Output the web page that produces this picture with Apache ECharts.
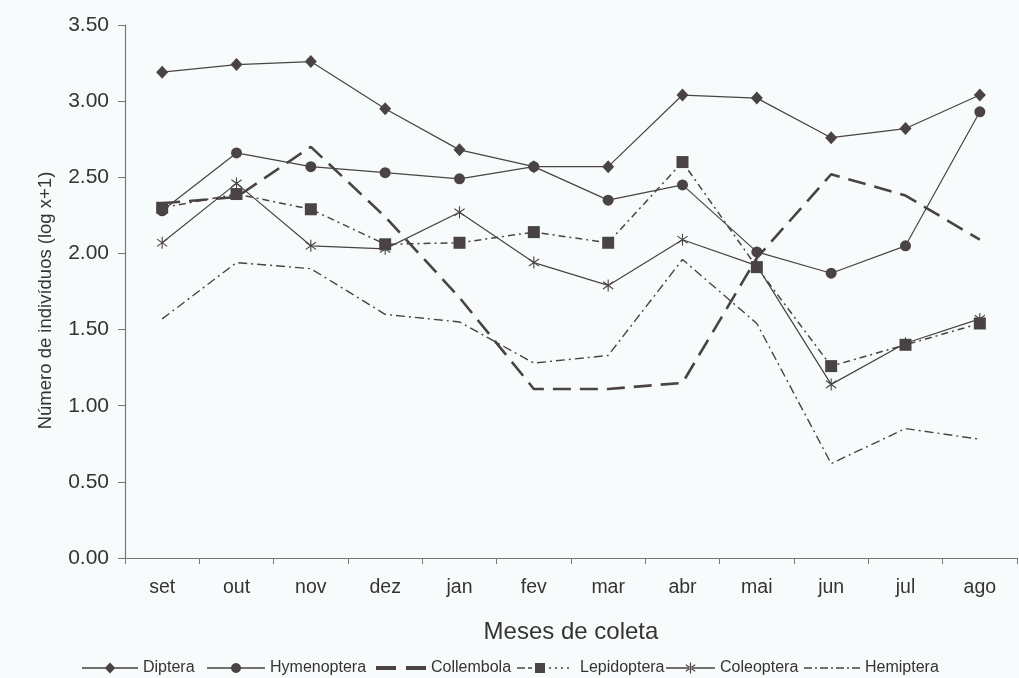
<!DOCTYPE html>
<html>
<head>
<meta charset="utf-8">
<script src="https://cdn.jsdelivr.net/npm/echarts@6/dist/echarts.min.js"></script>
<style>
  html, body { margin: 0; padding: 0; background: #f7fbfc; }
  #chart { width: 1019px; height: 678px; }
</style>
</head>
<body>
<div id="chart"></div>
<script>
// Months of collection (Sep to Aug)
const months = ['set', 'out', 'nov', 'dez', 'jan', 'fev', 'mar', 'abr', 'mai', 'jun', 'jul', 'ago'];
const yTicks = [0, 0.5, 1, 1.5, 2, 2.5, 3, 3.5];
const orders = ['Diptera', 'Hymenoptera', 'Collembola', 'Lepidoptera', 'Coleoptera', 'Hemiptera'];

// log(x+1) abundance per order
const diptera     = [3.19, 3.24, 3.26, 2.95, 2.68, 2.57, 2.57, 3.04, 3.02, 2.76, 2.82, 3.04];
const hymenoptera = [2.28, 2.66, 2.57, 2.53, 2.49, 2.57, 2.35, 2.45, 2.01, 1.87, 2.05, 2.93];
const collembola  = [2.33, 2.37, 2.70, 2.24, 1.71, 1.11, 1.11, 1.15, 1.97, 2.52, 2.38, 2.09];
const lepidoptera = [2.30, 2.39, 2.29, 2.06, 2.07, 2.14, 2.07, 2.60, 1.91, 1.26, 1.40, 1.54];
const coleoptera  = [2.07, 2.46, 2.05, 2.03, 2.27, 1.94, 1.79, 2.09, 1.92, 1.14, 1.41, 1.57];
const hemiptera   = [1.57, 1.94, 1.90, 1.60, 1.55, 1.28, 1.33, 1.96, 1.54, 0.62, 0.85, 0.78];

const ink = '#4a4343';
const textColor = '#363333';
const font = 'Liberation Sans, Arial, sans-serif';
const asterisk = 'path://M0,-1L0,1M-0.85,-0.6L0.85,0.6M-0.85,0.6L0.85,-0.6';

// ---- helpers that build filled legend icon outlines ----
const f = n => +n.toFixed(2);
function seg(x1, y1, x2, y2, t) {
  const dx = x2 - x1, dy = y2 - y1, len = Math.hypot(dx, dy) || 1;
  const nx = -dy / len * t / 2, ny = dx / len * t / 2;
  return `M${f(x1 + nx)},${f(y1 + ny)}L${f(x2 + nx)},${f(y2 + ny)}L${f(x2 - nx)},${f(y2 - ny)}L${f(x1 - nx)},${f(y1 - ny)}Z`;
}
function box(x, y, w, h) { return `M${x},${y}L${x + w},${y}L${x + w},${y + h}L${x},${y + h}Z`; }
function diamond(cx, cy, rx, ry) { return `M${cx},${cy - ry}L${cx + rx},${cy}L${cx},${cy + ry}L${cx - rx},${cy}Z`; }
function disc(cx, cy, r) {
  let p = '';
  for (let i = 0; i < 24; i++) {
    const a = i / 24 * Math.PI * 2;
    p += (i ? 'L' : 'M') + f(cx + r * Math.cos(a)) + ',' + f(cy + r * Math.sin(a));
  }
  return p + 'Z';
}
function star(cx, cy, r, t) {
  return seg(cx, cy - r, cx, cy + r, t) +
         seg(cx - r * 0.85, cy - r * 0.6, cx + r * 0.85, cy + r * 0.6, t) +
         seg(cx - r * 0.85, cy + r * 0.6, cx + r * 0.85, cy - r * 0.6, t);
}
// zero-area corners keep the icon's bounding box at w x h
function frame(w, h) { return `M0,0L0,0Z M${w},${h}L${w},${h}Z`; }

const H = 11, cy = 5.5, lt = 1.5, ly = cy - lt / 2;
const legendIcons = {
  Diptera:     { left: 77,  w: 56, path: frame(56, H) + box(0, ly, 56, lt) + diamond(28, cy, 5.3, 5.5) },
  Hymenoptera: { left: 202, w: 58, path: frame(58, H) + box(0, ly, 58, lt) + disc(29, cy, 5) },
  Collembola:  { left: 371, w: 50, path: frame(50, H) + box(0, 3.5, 20, 4) + box(30, 3.5, 20, 4) },
  Lepidoptera: { left: 512, w: 58, path: frame(58, H) + box(0, ly, 8, lt) + box(11, ly, 4, lt) +
                  box(18, 0.5, 10, 10) + box(32, ly, 2, lt) + box(38, ly, 2, lt) + box(44, ly, 2, lt) + box(50, ly, 2, lt) },
  Coleoptera:  { left: 661, w: 49, path: frame(49, H) + box(0, ly, 49, lt) + star(24.5, cy, 5.5, 1.2) },
  Hemiptera:   { left: 799, w: 56, path: frame(56, H) + box(0, ly, 8, lt) + box(11, ly, 2, lt) + box(16, ly, 8, lt) +
                  box(27, ly, 2, lt) + box(32, ly, 8, lt) + box(43, ly, 2, lt) + box(48, ly, 8, lt) }
};

function lineSeries(name, data, opts) {
  return Object.assign({
    name: name,
    type: 'line',
    data: data,
    showSymbol: true,
    symbolKeepAspect: true,
    color: ink,
    itemStyle: { color: ink },
    lineStyle: { color: ink, width: 1.2, type: 'solid' },
    emphasis: { disabled: true },
    animation: false,
    z: 2
  }, opts);
}

const chart = echarts.init(document.getElementById('chart'), null, { renderer: 'canvas' });

chart.setOption({
  backgroundColor: '#f7fbfc',
  textStyle: { fontFamily: font, color: textColor },
  grid: { left: 125, right: 2, top: 25, bottom: 120, containLabel: false },
  xAxis: {
    type: 'category',
    data: months,
    boundaryGap: true,
    name: 'Meses de coleta',
    nameLocation: 'middle',
    nameGap: 62,
    nameTextStyle: { fontSize: 24, color: textColor, fontFamily: font },
    axisLine: { lineStyle: { color: '#777', width: 1.2 } },
    axisTick: { show: true, length: 6, lineStyle: { color: '#777' } },
    axisLabel: { fontSize: 19.5, color: textColor, margin: 20, fontFamily: font }
  },
  yAxis: {
    type: 'value',
    min: yTicks[0],
    max: yTicks[yTicks.length - 1],
    interval: 0.5,
    name: 'Número de indivíduos (log x+1)',
    nameLocation: 'middle',
    nameGap: 70,
    nameTextStyle: { fontSize: 18.5, color: textColor, fontFamily: font, padding: [0, 18, 0, 0] },
    axisLine: { show: true, lineStyle: { color: '#777', width: 1.2 } },
    axisTick: { show: true, length: 7, lineStyle: { color: '#777' } },
    splitLine: { show: false },
    axisLabel: { fontSize: 21, color: textColor, margin: 16, fontFamily: font, formatter: v => v.toFixed(2) }
  },
  legend: orders.map(name => ({
    left: legendIcons[name].left,
    top: 655,
    itemWidth: legendIcons[name].w,
    itemHeight: H,
    selectedMode: false,
    icon: 'path://' + legendIcons[name].path,
    itemStyle: { color: ink, borderWidth: 0 },
    textStyle: { fontSize: 16, color: textColor, fontFamily: font },
    data: [name]
  })),
  series: [
    lineSeries('Diptera', diptera, { symbol: 'diamond', symbolSize: [12, 13] }),
    lineSeries('Hymenoptera', hymenoptera, { symbol: 'circle', symbolSize: 11 }),
    lineSeries('Collembola', collembola, {
      symbol: 'none',
      lineStyle: { color: ink, width: 2.6, type: [18, 9] }
    }),
    lineSeries('Lepidoptera', lepidoptera, {
      symbol: 'rect', symbolSize: 12,
      lineStyle: { color: ink, width: 1.5, type: [7, 4, 2, 4] }
    }),
    lineSeries('Coleoptera', coleoptera, {
      symbol: asterisk, symbolSize: 12,
      itemStyle: { color: ink, borderColor: ink, borderWidth: 1.1 }
    }),
    lineSeries('Hemiptera', hemiptera, {
      symbol: 'none',
      lineStyle: { color: ink, width: 1.4, type: [9, 4, 2, 4] }
    })
  ]
});
</script>
</body>
</html>
